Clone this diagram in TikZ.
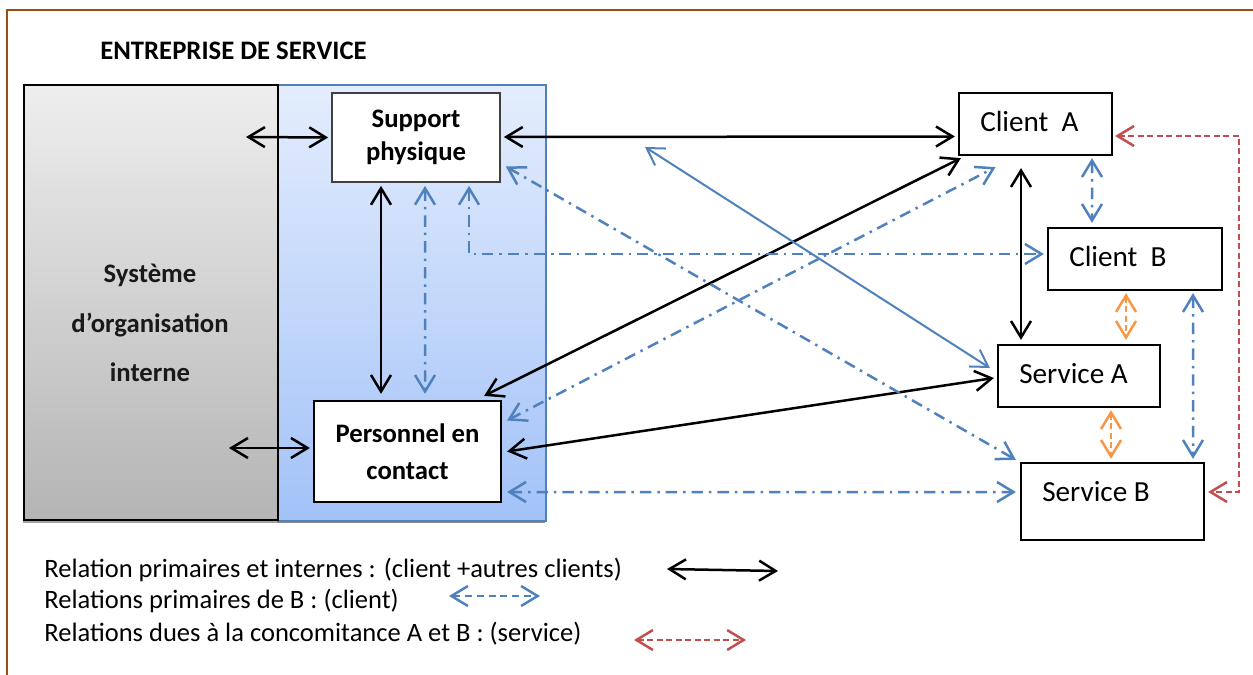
\documentclass[tikz,border=0pt]{standalone}
\usepackage{fontspec}
\setmainfont{Carlito}
\usetikzlibrary{arrows.meta,calc}

\definecolor{framebrown}{HTML}{9C4D14}
\definecolor{officeblue}{HTML}{4F81BD}
\definecolor{officeorange}{HTML}{F79646}
\definecolor{officered}{HTML}{C0504D}
\definecolor{grayTop}{HTML}{EEEEEE}
\definecolor{grayBot}{HTML}{B4B4B4}
\definecolor{blueTop}{HTML}{E4EDFD}
\definecolor{blueBot}{HTML}{A2C2F8}
\definecolor{shadowgray}{HTML}{8C8C8C}

\tikzset{
  box/.style={draw=black, fill=white, line width=0.045cm, inner sep=0pt},
  boldtext/.style={font=\bfseries\fontsize{15.2}{18}\selectfont, inner sep=0pt},
  boxtext/.style={font=\fontsize{16.6}{20}\selectfont, inner sep=0pt, anchor=base west},
  legendtext/.style={font=\fontsize{15.1}{18}\selectfont, inner sep=0pt, anchor=base west},
  blk/.style={draw=black, line width=0.05cm},
  dashdotline/.style={dash pattern=on 6.5pt off 3.4pt on 1.4pt off 3.4pt},
  bdd/.style={draw=officeblue, line width=0.05cm, dashdotline},
  bsol/.style={draw=officeblue, line width=0.04cm},
  odash/.style={draw=officeorange, line width=0.05cm, dash pattern=on 3.4pt off 2pt},
  rdash/.style={draw=officered, line width=0.05cm, dash pattern=on 3.4pt off 2pt},
  bdash/.style={draw=officeblue, line width=0.05cm, dash pattern=on 4pt off 2.8pt},
}

\begin{document}
\begin{tikzpicture}[x=0.02cm,y=-0.02cm,>={Straight Barb[length=0.33cm,width=0.4cm]}]
\useasboundingbox (0,0) rectangle (1253,675);
\clip (0,0) rectangle (1253,675);

% outer frame
\draw[framebrown, line width=0.045cm] (7,700) -- (7,10) -- (1300,10);

% title
\node[boldtext, anchor=base west] (title) at (100,60) {ENTREPRISE DE SERVICE};

% service company block (blue) and internal organisation (gray)
\fill[shadowgray] (255,88) rectangle (545,523);
\node[draw=officeblue, line width=0.035cm, top color=blueTop, bottom color=blueBot,
      minimum width=5.8cm, minimum height=8.72cm, anchor=north west, inner sep=0pt] (ent) at (255,84) {};
\fill[shadowgray!80] (23,88) rectangle (277,523);
\node[draw=black, line width=0.045cm, top color=grayTop, bottom color=grayBot,
      minimum width=5.08cm, minimum height=8.7cm, anchor=north west, inner sep=0pt] (sys) at (23,84) {};
\node[boldtext, anchor=base, text=black!90] (sys1) at (150,283) {Système};
\node[boldtext, anchor=base, text=black!90] (sys2) at (150,332) {d’organisation};
\node[boldtext, anchor=base, text=black!90] (sys3) at (150,381) {interne};

% inner boxes
\node[box, draw=black!75, line width=0.035cm, minimum width=3.36cm, minimum height=1.78cm,
      font=\bfseries\fontsize{15.2}{18.8}\selectfont, align=center] (sp) at (416,137.5) {Support\\physique};
\node[box, minimum width=3.74cm, minimum height=2.02cm,
      font=\bfseries\fontsize{15.2}{21}\selectfont, align=center] (pc) at (407.5,451.5) {Personnel en\\contact};

% client and service boxes
\node[box, minimum width=3.06cm, minimum height=1.24cm] (cA) at (1035.5,124) {};
\node[boxtext] (tcA) at ($(cA.north west)+(22,40)$) {Client\ \ A};
\node[box, minimum width=3.48cm, minimum height=1.24cm] (cB) at (1135,259) {};
\node[boxtext] (tcB) at ($(cB.north west)+(22,40)$) {Client\ \ B};
\node[box, minimum width=3.24cm, minimum height=1.24cm] (sA) at (1079,376) {};
\node[boxtext] (tsA) at ($(sA.north west)+(22,40)$) {Service A};
\node[box, minimum width=3.66cm, minimum height=1.54cm] (sB) at (1112.5,501.5) {};
\node[boxtext] (tsB) at ($(sB.north west)+(22,40)$) {Service B};

% free ends
\coordinate (g1) at (246,137);
\coordinate (g2) at (229,448);
\coordinate (f1) at (645,147);

% primary and internal relations (black)
\draw[blk,<->] (g1) -- ($(sp.west)+(-3,0)$);
\draw[blk,<->] (g2) -- ($(pc.west)+(-3,-3.5)$);
\draw[blk,<->] ($(sp.east)+(3,-0.5)$) -- ($(cA.west)+(-3,12.5)$);
\draw[blk,<->] ($(sp.south)+(-35,3)$) -- ($(pc.north)+(-26.5,-6)$);
\draw[blk,<->] ($(pc.north east)+(-18,-4)$) -- ($(cA.south west)+(3,2)$);
\draw[blk,<->] ($(pc.east)+(5,0)$) -- ($(sA.west)+(-3,2)$);
\draw[blk,<->] ($(cA.south)+(-14.5,12)$) -- ($(sA.north)+(-58,-4)$);

% relations of B (blue)
\draw[bdd,<->] ($(sp.south)+(9,3)$) -- ($(pc.north)+(17.5,-6)$);
\draw[bdd,<->] ($(sp.south)+(53,3)$) |- ($(cB.west)+(-3,-5)$);
\draw[bdd,<->] ($(sp.east)+(5,29)$) -- ($(sB.north west)+(-4,-2)$);
\draw[bsol,<->] (f1) -- ($(sA.west)+(-7,-8)$);
\draw[bdd,<->] ($(pc.east)+(5,-31)$) -- ($(cA.south)+(-40,11)$);
\draw[bdd,<->] ($(pc.east)+(5,40.5)$) -- ($(sB.west)+(-4,-9.5)$);
\draw[bdd,<->] ($(cA.south)+(56.5,2)$) -- ($(cB.north)+(-43,-4)$);
\draw[bdd,<->] ($(cB.south)+(58,2)$) -- ($(sB.north)+(80.5,-3)$);

% concomitance relations (orange, red)
\draw[odash,<->] ($(cB.south)+(-9,2)$) -- ($(sA.north)+(47,-4)$);
\draw[odash,<->] ($(sA.south)+(32,2)$) -- ($(sB.north)+(-1.5,-3)$);
\draw[rdash,<->] ($(cA.east)+(2,12)$) -- ++(124,0) |- ($(sB.east)+(3,-9.5)$);

% legend
\node[legendtext] (lg1) at (44,577) {Relation primaires et internes : (client +autres clients)};
\node[legendtext] (lg2) at (44,608) {Relations primaires de B : (client)};
\node[legendtext] (lg3) at (44,641) {Relations dues à la concomitance A et B : (service)};
\coordinate (la1) at (667,569); \coordinate (lb1) at (778,571);
\coordinate (la2) at (449,596); \coordinate (lb2) at (540,596);
\coordinate (la3) at (634,640); \coordinate (lb3) at (746,640);
\draw[blk,<->] (la1) -- (lb1);
\draw[bdash,<->] (la2) -- (lb2);
\draw[rdash,<->] (la3) -- (lb3);
\end{tikzpicture}
\end{document}
